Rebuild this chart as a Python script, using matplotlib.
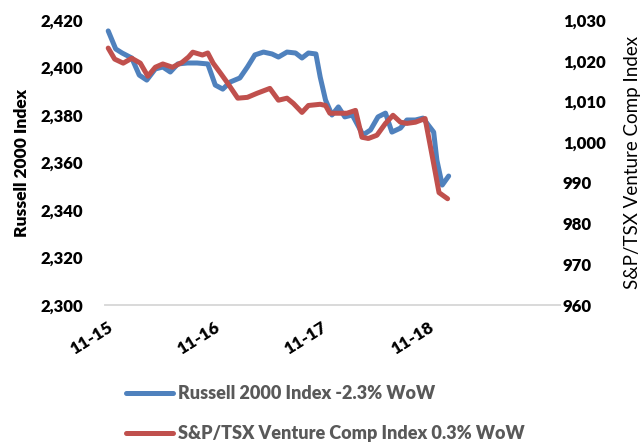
import matplotlib.pyplot as plt
from matplotlib.ticker import FuncFormatter

plt.rcParams['font.family'] = ['Lato', 'DejaVu Sans']

# x in days since 11-15
russell_x = [0.01, 0.08, 0.14, 0.23, 0.30, 0.37, 0.45, 0.52, 0.59, 0.66, 0.75, 0.84, 0.94,
             1.01, 1.08, 1.15, 1.24, 1.31, 1.38, 1.46, 1.54, 1.60, 1.68, 1.76, 1.82, 1.88, 1.95,
             1.99, 2.04, 2.10, 2.16, 2.22, 2.29, 2.34, 2.39, 2.46, 2.53, 2.60, 2.66, 2.74, 2.80,
             2.88, 2.95, 3.05, 3.08, 3.13, 3.19]
russell = [2415.4, 2407.8, 2406.1, 2404.0, 2396.8, 2394.7, 2399.4, 2400.2, 2398.1, 2401.5, 2401.9,
           2401.9, 2401.5, 2392.6, 2390.9, 2393.9, 2395.6, 2400.2, 2405.3, 2406.5, 2405.7, 2404.4,
           2406.5, 2406.1, 2404.0, 2406.1, 2405.7, 2396.0, 2386.3, 2380.0, 2383.4, 2379.2, 2380.0,
           2375.8, 2371.6, 2373.7, 2379.2, 2380.8, 2372.8, 2374.5, 2377.9, 2377.9, 2378.7, 2372.8,
           2361.0, 2350.5, 2354.3]

tsx_x = [0.01, 0.07, 0.15, 0.23, 0.31, 0.38, 0.45, 0.52, 0.61, 0.70, 0.76, 0.80, 0.89, 0.94,
         0.99, 1.06, 1.12, 1.22, 1.31, 1.40, 1.52, 1.60, 1.68, 1.74, 1.82, 1.88, 1.99, 2.04, 2.08,
         2.18, 2.24, 2.32, 2.38, 2.44, 2.52, 2.60, 2.67, 2.74, 2.80, 2.88, 2.97, 3.05, 3.10, 3.18]
tsx = [1023.1, 1020.4, 1019.4, 1020.6, 1019.4, 1016.2, 1018.4, 1019.2, 1018.4, 1019.6, 1020.9,
       1022.1, 1021.4, 1021.9, 1019.4, 1016.9, 1014.7, 1010.8, 1011.0, 1012.0, 1013.2, 1010.3,
       1010.8, 1009.5, 1007.3, 1009.0, 1009.3, 1009.0, 1007.1, 1007.1, 1007.1, 1007.8, 1001.2,
       1000.9, 1001.7, 1004.6, 1006.6, 1004.9, 1004.6, 1004.9, 1005.8, 994.7, 987.6, 986.1]

tick_pos = [0, 1, 2, 3]
tick_labels = ['11-15', '11-16', '11-17', '11-18']

W = 'heavy'

fig = plt.figure(figsize=(6.42, 4.42), dpi=100)
ax = fig.add_axes([105/642, 1 - 305/442, (560 - 105)/642, 285/442])
ax2 = ax.twinx()

l1, = ax.plot(russell_x, russell, color='#4F81BD', lw=3.6,
              solid_joinstyle='round', solid_capstyle='round')
l2, = ax2.plot(tsx_x, tsx, color='#C0504D', lw=3.6,
               solid_joinstyle='round', solid_capstyle='round')

ax.set_xlim(-0.02, 4.23)
ax.set_ylim(2300, 2420)
ax2.set_ylim(960, 1030)
ax.set_yticks(range(2300, 2421, 20))
ax2.set_yticks(range(960, 1031, 10))

fmt = FuncFormatter(lambda v, p: f'{v:,.0f}')
ax.yaxis.set_major_formatter(fmt)
ax2.yaxis.set_major_formatter(fmt)

ax.set_xticks(tick_pos)
ax.set_xticklabels(tick_labels, rotation=32, ha='right', rotation_mode='anchor',
                   fontsize=12.5, fontweight=W)

for a in (ax, ax2):
    for s in ('top', 'left', 'right'):
        a.spines[s].set_visible(False)
    a.spines['bottom'].set_color('#d9d9d9')
    a.spines['bottom'].set_linewidth(1.2)
    a.tick_params(length=0)

ax.tick_params(axis='y', labelsize=12, pad=16)
ax.tick_params(axis='x', pad=10)
for t in ax.get_yticklabels():
    t.set_fontweight(W)
ax2.tick_params(axis='y', labelsize=12, pad=2)
for t in ax2.get_yticklabels():
    t.set_fontweight(W)

ax.set_ylabel('Russell 2000 Index', fontsize=12.5, fontweight=W, labelpad=7)
ax2.set_ylabel('S&P/TSX Venture Comp Index', fontsize=13.5, labelpad=13)

fig.legend([l1, l2], ['Russell 2000 Index -2.3% WoW', 'S&P/TSX Venture Comp Index 0.3% WoW'],
           loc='upper left', bbox_to_anchor=(110/642, 1 - 369/442), frameon=False,
           handlelength=2.6, handletextpad=0.25, labelspacing=1.25, labelcolor='#595959',
           prop={'weight': W, 'size': 13})

fig.savefig('out.png', dpi=100)
